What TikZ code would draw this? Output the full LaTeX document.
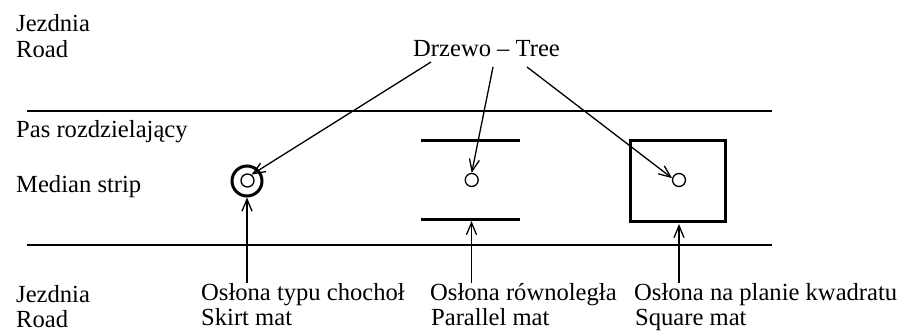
\documentclass[tikz,border=0pt]{standalone}
\usepackage{fontspec}
\setmainfont{Liberation Serif}
\usetikzlibrary{arrows.meta}
\tikzset{
  lbl/.style={anchor=base west, inner sep=0pt, font=\fontsize{24.6}{27}\selectfont},
  roadline/.style={line width=1.5pt},
  thick bar/.style={line width=3pt},
  ptr/.style={line width=1.3pt, -{Straight Barb[length=12pt,width=10pt,line width=1.3pt]}},
  trunk/.style={circle, draw, line width=1.3pt, minimum size=13pt, inner sep=0pt},
}
\begin{document}
\begin{tikzpicture}[x=1pt,y=-1pt]
  \useasboundingbox (0,0) rectangle (899,331);

  % road edges
  \coordinate (l1a) at (27,111);  \coordinate (l1b) at (772,111);
  \coordinate (l2a) at (27,245);  \coordinate (l2b) at (772,245);
  \draw[roadline] (l1a) -- (l1b);
  \draw[roadline] (l2a) -- (l2b);

  % left-hand labels
  \node[lbl] (jz1) at (16,32) {Jezdnia};
  \node[lbl] (rd1) at (16,58) {Road};
  \node[lbl] (pas) at (16,138) {Pas rozdzielający};
  \node[lbl] (med) at (16,193) {Median strip};
  \node[lbl] (jz2) at (16,302) {Jezdnia};
  \node[lbl] (rd2) at (16,327) {Road};

  % tree label
  \node[lbl] (tree) at (413,57) {Drzewo – Tree};

  % skirt mat
  \node[circle, draw, line width=3pt, minimum size=30pt, inner sep=0pt] (skirt) at (247,181) {};
  \node[trunk] (t1) at (247.5,180.5) {};

  % parallel mat
  \coordinate (pa1) at (421,141); \coordinate (pa2) at (520,141);
  \coordinate (pb1) at (421,219); \coordinate (pb2) at (520,219);
  \draw[thick bar] (pa1) -- (pa2);
  \draw[thick bar] (pb1) -- (pb2);
  \node[trunk] (t2) at (471.7,180) {};

  % square mat
  \node[draw, line width=3pt, minimum width=95pt, minimum height=81pt, inner sep=0pt] (sq) at (677.5,181) {};
  \node[trunk] (t3) at (679,180) {};

  % arrows from the tree label
  \coordinate (s1) at (431,62);
  \coordinate (s2) at (493,67);
  \coordinate (s3) at (527,67);
  \draw[ptr] (s1) -- (t1.55);
  \draw[ptr] (s2) -- (t2.north);
  \draw[ptr] (s3) -- (t3.165);

  % bottom labels and their arrows
  \node[lbl] (o1) at (201,300) {Osłona typu chochoł};
  \node[lbl] (e1) at (201,325) {Skirt mat};
  \node[lbl] (o2) at (430,300) {Osłona równoległa};
  \node[lbl] (e2) at (431,325) {Parallel mat};
  \node[lbl] (o3) at (634,300) {Osłona na planie kwadratu};
  \node[lbl] (e3) at (635,325) {Square mat};

  \coordinate (b1) at (247,283);
  \coordinate (b2) at (471.5,283);
  \coordinate (b3) at (679,283);
  \draw[ptr] (b1) -- (skirt.south);
  \draw[ptr] (b2) -- (471.5,221);
  \draw[ptr] (b3) -- (679,224);
\end{tikzpicture}
\end{document}
